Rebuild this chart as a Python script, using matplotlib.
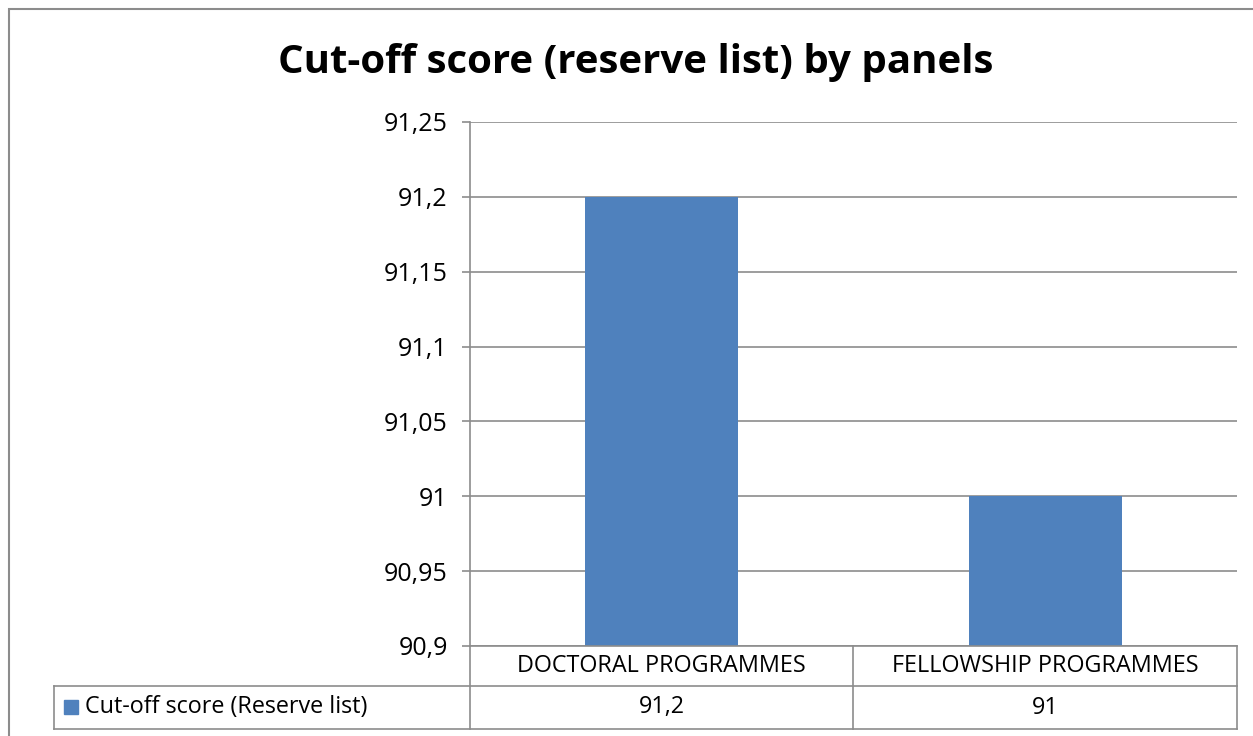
import matplotlib
matplotlib.use("Agg")
import matplotlib.pyplot as plt
from matplotlib.lines import Line2D
from matplotlib.patches import Rectangle
from matplotlib.ticker import FixedLocator, FuncFormatter

categories = ["DOCTORAL PROGRAMMES", "FELLOWSHIP PROGRAMMES"]
values = [91.2, 91.0]
series_name = "Cut-off score (Reserve list)"
title = "Cut-off score (reserve list) by panels"
y_ticks = [90.9, 90.95, 91.0, 91.05, 91.1, 91.15, 91.2, 91.25]

W, H = 1253, 736
BAR = "#4F81BD"
GRID = "#8C8C8C"
FONT = "Open Sans"


def comma(v, _=None):
    s = f"{v:.2f}".rstrip("0").rstrip(".")
    return s.replace(".", ",")


def fx(px):
    return px / W


def fy(py):
    return 1 - py / H


fig = plt.figure(figsize=(W / 100, H / 100), dpi=100)

# outer chart border (clipped on right/bottom like the reference)
fig.add_artist(Rectangle((fx(9), fy(760)), fx(1300), 760 / H - 9 / H,
                         transform=fig.transFigure, fill=False,
                         edgecolor="#8C8C8C", lw=1.5))

ax = fig.add_axes([fx(470), fy(646), fx(1237) - fx(470), fy(122) - fy(646)])
x = list(range(len(categories)))
ax.bar(x, [v - 90.9 for v in values], bottom=90.9, width=0.4, color=BAR, zorder=3)
ax.set_xlim(-0.5, len(categories) - 0.5)
ax.set_ylim(90.9, 91.25)
ax.yaxis.set_major_locator(FixedLocator(y_ticks))
ax.yaxis.set_major_formatter(FuncFormatter(comma))
ax.grid(axis="y", color=GRID, lw=1.2, zorder=0)
for side in ["top", "right", "bottom"]:
    ax.spines[side].set_visible(False)
ax.spines["left"].set_color(GRID)
ax.spines["left"].set_linewidth(1.2)
ax.set_xticks([])
ax.tick_params(axis="y", length=6, color=GRID, width=1.2, pad=10,
               labelsize=18)
for lab in ax.get_yticklabels():
    lab.set_fontfamily(FONT)

fig.text(fx(636), fy(63), title, ha="center", va="center",
         fontsize=29, fontweight="bold", family=FONT)

# data table under the axis
col_edges = [470, 853, 1237]
rows = [646, 686, 729]


def hline(y, x0, x1):
    fig.add_artist(Line2D([fx(x0), fx(x1)], [fy(y), fy(y)],
                          transform=fig.transFigure, color=GRID, lw=1.2))


def vline(x0, y0, y1):
    fig.add_artist(Line2D([fx(x0), fx(x0)], [fy(y0), fy(y1)],
                          transform=fig.transFigure, color=GRID, lw=1.2))


hline(rows[0], col_edges[0], col_edges[-1])
hline(rows[1], 54, col_edges[-1])
hline(rows[2], 54, col_edges[-1])
vline(54, rows[1], rows[2])
for cx in col_edges:
    vline(cx, rows[0], rows[2])

for i, (cat, val) in enumerate(zip(categories, values)):
    xc = (col_edges[i] + col_edges[i + 1]) / 2
    fig.text(fx(xc), fy((rows[0] + rows[1]) / 2), cat, ha="center", va="center",
             fontsize=16.8, family=FONT)
    fig.text(fx(xc), fy((rows[1] + rows[2]) / 2), comma(val), ha="center",
             va="center", fontsize=16.8, family=FONT)

fig.add_artist(Rectangle((fx(64), fy(714)), fx(14), 14 / H,
                         transform=fig.transFigure, color=BAR))
fig.text(fx(85), fy(707), series_name, ha="left", va="center",
         fontsize=16.8, family=FONT)

fig.savefig("out.png", dpi=100)
